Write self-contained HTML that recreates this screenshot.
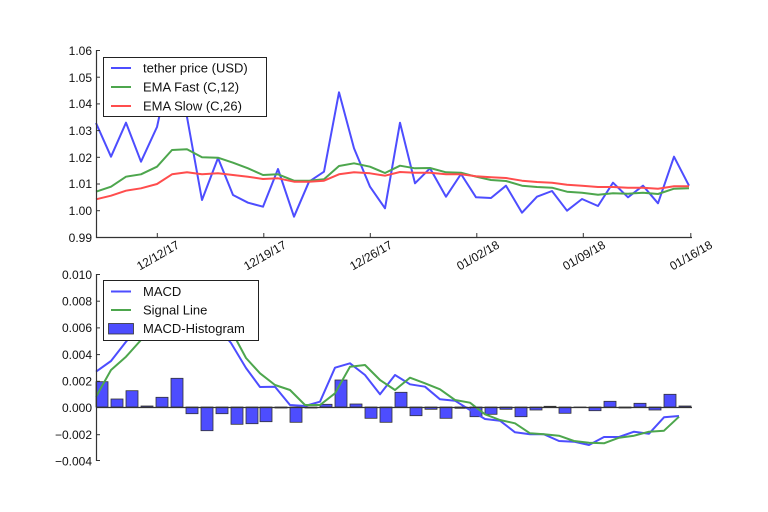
<!DOCTYPE html>
<html><head><meta charset="utf-8"><style>
html,body{margin:0;padding:0;background:#fff;}
svg{display:block;font-family:"Liberation Sans","DejaVu Sans",sans-serif;}
</style></head><body>
<svg width="768" height="512" viewBox="0 0 768 512" xmlns="http://www.w3.org/2000/svg">
<rect width="768" height="512" fill="#fff"/>
<g fill="none" stroke-width="2" stroke-linejoin="round">
<polyline stroke="#4d4dff" points="96,123 111,156.7 126,122.7 141,161.7 157,127 172,58 187,117 202,200 218,158 233,195 248,202.7 263,206.7 278,169 294,216.7 309,181.7 324,171.7 339,92.3 354,148.3 370,186.7 385,208.3 400,122.7 415,183.3 430,168.3 446,196.7 461,174 476,197.3 491,198 506,185.7 522,212.7 537,196.7 552,191 567,210.7 582,199 598,206 613,182.7 628,197.3 643,185.7 658,203.3 674,156.7 689,185.7"/>
<polyline stroke="#4da64d" points="96,191.7 111,186.7 126,176.7 141,174.3 157,166.7 172,150 187,149.3 202,157.3 218,157.7 233,162.7 248,168.3 263,175 278,174.3 294,180.7 309,180.7 324,179.3 339,166 354,163.3 370,166.7 385,173 400,165.7 415,168.3 430,168 446,172.3 461,172.7 476,176.7 491,180 506,181 522,185.7 537,187 552,187.7 567,191.7 582,192.7 598,194.7 613,193.3 628,193.7 643,192.7 658,194 674,188.7 689,188.3"/>
<polyline stroke="#ff4d4d" points="96,199.3 111,195.7 126,190.7 141,188.3 157,184 172,174.3 187,172.3 202,174.3 218,173.3 233,175 248,176.7 263,179 278,178.3 294,181.7 309,181.7 324,180.7 339,174.3 354,172.3 370,173.3 385,175.7 400,172 415,172.7 430,172.7 446,174.3 461,174.3 476,176.3 491,177.3 506,178 522,180.7 537,182 552,182.7 567,184.7 582,185.7 598,187 613,187 628,187.7 643,187.7 658,188.7 674,186.3 689,186.3"/>
</g>
<g stroke="#333" stroke-width="1.2" fill="none">
<line x1="96.5" y1="50" x2="96.5" y2="238"/>
<line x1="96" y1="237.5" x2="692" y2="237.5"/>
</g>
<g stroke="#333" stroke-width="1">
<line x1="96" y1="50.5" x2="100" y2="50.5"/><line x1="96" y1="77.2" x2="100" y2="77.2"/><line x1="96" y1="103.9" x2="100" y2="103.9"/><line x1="96" y1="130.6" x2="100" y2="130.6"/><line x1="96" y1="157.3" x2="100" y2="157.3"/><line x1="96" y1="184" x2="100" y2="184"/><line x1="96" y1="210.7" x2="100" y2="210.7"/>
<line x1="157.3" y1="237" x2="157.3" y2="233"/><line x1="263.8" y1="237" x2="263.8" y2="233"/><line x1="370.3" y1="237" x2="370.3" y2="233"/><line x1="476.8" y1="237" x2="476.8" y2="233"/><line x1="583.3" y1="237" x2="583.3" y2="233"/><line x1="690.8" y1="237" x2="690.8" y2="233"/>
</g>
<g font-size="12" fill="#111" text-anchor="end">
<text x="92" y="55">1.06</text><text x="92" y="82">1.05</text><text x="92" y="108">1.04</text><text x="92" y="135">1.03</text><text x="92" y="162">1.02</text><text x="92" y="188">1.01</text><text x="92" y="215">1.00</text><text x="92" y="242">0.99</text>
</g>
<g font-size="12" fill="#111" text-anchor="middle">
<text transform="translate(160,259) rotate(-30)">12/12/17</text>
<text transform="translate(267,259) rotate(-30)">12/19/17</text>
<text transform="translate(373,259) rotate(-30)">12/26/17</text>
<text transform="translate(480,259) rotate(-30)">01/02/18</text>
<text transform="translate(586,259) rotate(-30)">01/09/18</text>
<text transform="translate(693,259) rotate(-30)">01/16/18</text>
</g>
<rect x="103.5" y="57.5" width="163" height="59" fill="#fff" stroke="#222" stroke-width="1"/>
<g stroke-width="2"><line x1="111" y1="68" x2="131" y2="68" stroke="#4d4dff"/><line x1="111" y1="87" x2="131" y2="87" stroke="#4da64d"/><line x1="111" y1="106" x2="131" y2="106" stroke="#ff4d4d"/></g>
<g font-size="13" fill="#111"><text x="143" y="72.5">tether price (USD)</text><text x="143" y="91.5">EMA Fast (C,12)</text><text x="143" y="110.5">EMA Slow (C,26)</text></g>

<g fill="#4d4dff" stroke="#333" stroke-width="0.8">
<rect x="96" y="381.7" width="12" height="25.3"/>
<rect x="111" y="399" width="12" height="8"/>
<rect x="126" y="390.7" width="12" height="16.3"/>
<rect x="141" y="406" width="12" height="1"/>
<rect x="156" y="397.3" width="12" height="9.7"/>
<rect x="171" y="378.3" width="12" height="28.7"/>
<rect x="186" y="407" width="12" height="6.7"/>
<rect x="201" y="407" width="12" height="23.7"/>
<rect x="216" y="407" width="12" height="6.7"/>
<rect x="231" y="407" width="12" height="17.3"/>
<rect x="246" y="407" width="12" height="16.7"/>
<rect x="260" y="407" width="12" height="14.7"/>
<rect x="275" y="407" width="12" height="1"/>
<rect x="290" y="407" width="12" height="15.3"/>
<rect x="305" y="407" width="12" height="1"/>
<rect x="320" y="404.3" width="12" height="2.7"/>
<rect x="335" y="380" width="12" height="27"/>
<rect x="350" y="404" width="12" height="3"/>
<rect x="365" y="407" width="12" height="11.3"/>
<rect x="380" y="407" width="12" height="15.3"/>
<rect x="395" y="392.3" width="12" height="14.7"/>
<rect x="410" y="407" width="12" height="8.7"/>
<rect x="425" y="407" width="12" height="2.3"/>
<rect x="440" y="407" width="12" height="11.3"/>
<rect x="455" y="407" width="12" height="1.3"/>
<rect x="470" y="407" width="12" height="9.7"/>
<rect x="485" y="407" width="12" height="7.3"/>
<rect x="500" y="407" width="12" height="2.3"/>
<rect x="515" y="407" width="12" height="9.7"/>
<rect x="530" y="407" width="12" height="3"/>
<rect x="544" y="406.3" width="12" height="0.7"/>
<rect x="559" y="407" width="12" height="6.3"/>
<rect x="574" y="407" width="12" height="0.6"/>
<rect x="589" y="407" width="12" height="3.7"/>
<rect x="604" y="401.3" width="12" height="5.7"/>
<rect x="619" y="407" width="12" height="1"/>
<rect x="634" y="403.3" width="12" height="3.7"/>
<rect x="649" y="407" width="12" height="3"/>
<rect x="664" y="394.3" width="12" height="12.7"/>
<rect x="679" y="406" width="12" height="1"/>
</g>
<g fill="none" stroke-width="2" stroke-linejoin="round">
<polyline stroke="#4d4dff" points="96,371.7 111,361 126,341.7 141,325 156,315 171,312 186,314 201,318 216,325 231,343 246,368 260,387 275,386.7 290,405 305,406 320,401.7 335,367.7 350,363.3 365,375 380,394.3 395,375 410,384.3 425,386.7 440,399.3 455,400.7 470,410 485,419 500,420.7 515,432.3 530,434.3 544,434.3 559,441 574,441.7 589,445 604,437 619,437 634,431.7 649,433.7 664,417.3 679,416"/>
<polyline stroke="#4da64d" points="96,396.7 111,370 126,356.7 141,340 156,328 171,320 186,316 201,315 216,316 231,330 246,358 260,373.3 275,385 290,390 305,405 320,405 335,393.3 350,366.7 365,365 380,380 395,390 410,377.7 425,383.3 440,389.3 455,400 470,402.7 485,414.3 500,420 515,423.3 530,433.3 544,434.3 559,435.7 574,441 589,442.7 604,443.3 619,437.7 634,435.7 649,431.7 664,430.7 679,416.7"/>
</g>
<g stroke="#333" stroke-width="1.2" fill="none">
<line x1="96.5" y1="274" x2="96.5" y2="461"/>
<line x1="96" y1="407.5" x2="692" y2="407.5"/>
</g>
<g stroke="#333" stroke-width="1">
<line x1="96" y1="274.5" x2="100" y2="274.5"/><line x1="96" y1="301.2" x2="100" y2="301.2"/><line x1="96" y1="327.9" x2="100" y2="327.9"/><line x1="96" y1="354.6" x2="100" y2="354.6"/><line x1="96" y1="381.3" x2="100" y2="381.3"/><line x1="96" y1="434.7" x2="100" y2="434.7"/><line x1="96" y1="460.5" x2="100" y2="460.5"/>
</g>
<g font-size="12" fill="#111" text-anchor="end">
<text x="92" y="279">0.010</text><text x="92" y="305.5">0.008</text><text x="92" y="332">0.006</text><text x="92" y="359">0.004</text><text x="92" y="385.5">0.002</text><text x="92" y="412">0.000</text><text x="92" y="439">−0.002</text><text x="92" y="465.5">−0.004</text>
</g>
<rect x="103.5" y="280.5" width="155" height="60" fill="#fff" stroke="#222" stroke-width="1"/>
<g stroke-width="2"><line x1="111" y1="291.5" x2="131" y2="291.5" stroke="#4d4dff"/><line x1="111" y1="310" x2="131" y2="310" stroke="#4da64d"/></g>
<rect x="108.5" y="323.5" width="25" height="10.5" fill="#4d4dff" stroke="#333" stroke-width="0.8"/>
<g font-size="13" fill="#111"><text x="143" y="296">MACD</text><text x="143" y="314.5">Signal Line</text><text x="143" y="333">MACD-Histogram</text></g>
</svg>
</body></html>
